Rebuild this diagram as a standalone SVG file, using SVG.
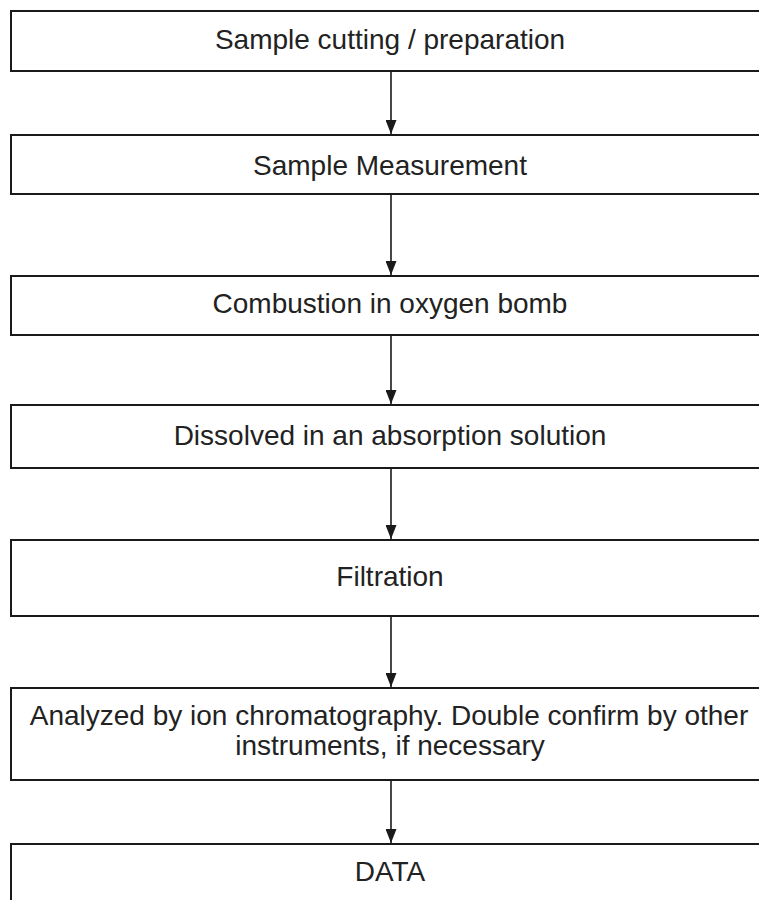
<svg xmlns="http://www.w3.org/2000/svg" width="759" height="900" viewBox="0 0 759 900">
<style>
.box{fill:#fff;stroke:#1a1a1a;stroke-width:2}
.lbl{font-family:"Liberation Sans",Arial,sans-serif;font-size:28px;fill:#222;text-anchor:middle}
.conn line{stroke:#1a1a1a;stroke-width:1.6}
</style>
<defs>
<marker id="ah" markerWidth="14" markerHeight="11" refX="14" refY="5.5" orient="auto" markerUnits="userSpaceOnUse" viewBox="0 0 14 11">
<path d="M0,0 L14,5.5 L0,11 Z" fill="#1a1a1a"/>
</marker>
</defs>
<rect width="759" height="900" fill="#fff"/>
<g class="conn">
<line x1="391" y1="71" x2="391" y2="134" marker-end="url(#ah)"/>
<line x1="391" y1="194" x2="391" y2="275" marker-end="url(#ah)"/>
<line x1="391" y1="335" x2="391" y2="404" marker-end="url(#ah)"/>
<line x1="391" y1="468" x2="391" y2="539" marker-end="url(#ah)"/>
<line x1="391" y1="616" x2="391" y2="687" marker-end="url(#ah)"/>
<line x1="391" y1="780" x2="391" y2="843" marker-end="url(#ah)"/>
</g>
<g id="n1"><rect class="box" x="11" y="11" width="770" height="60"/><text class="lbl" x="390" y="49">Sample cutting / preparation</text></g>
<g id="n2"><rect class="box" x="11" y="135" width="770" height="59"/><text class="lbl" x="390" y="175">Sample Measurement</text></g>
<g id="n3"><rect class="box" x="11" y="276" width="770" height="59"/><text class="lbl" x="390" y="313">Combustion in oxygen bomb</text></g>
<g id="n4"><rect class="box" x="11" y="405" width="770" height="63"/><text class="lbl" x="390" y="445">Dissolved in an absorption solution</text></g>
<g id="n5"><rect class="box" x="11" y="540" width="770" height="76"/><text class="lbl" x="390" y="586">Filtration</text></g>
<g id="n6"><rect class="box" x="11" y="688" width="770" height="92"/><text class="lbl" x="389" y="725">Analyzed by ion chromatography. Double confirm by other</text><text class="lbl" x="390" y="755">instruments, if necessary</text></g>
<g id="n7"><rect class="box" x="11" y="844" width="770" height="80"/><text class="lbl" x="390" y="881">DATA</text></g>
</svg>
